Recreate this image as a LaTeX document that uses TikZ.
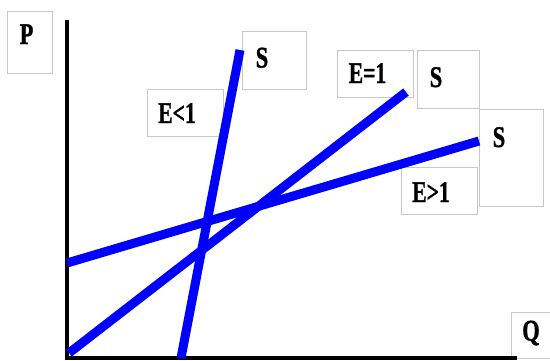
\documentclass[tikz,border=0pt]{standalone}
\usepackage{fontspec}
\setmainfont{Liberation Serif}
\newfontfamily\lblfont{Liberation Serif Bold}[FakeBold=1.2]
\begin{document}
\begin{tikzpicture}[x=1pt,y=-1pt,
  lbox/.style={draw=black!22,line width=0.8pt,fill=white},
  lbl/.style={anchor=base,inner sep=0pt,font=\lblfont\fontsize{30}{32}\selectfont},
  axis/.style={line width=4pt,black},
  curve/.style={line width=9pt,blue}]
\useasboundingbox (0,0) rectangle (550,360);
% boxes
\draw[lbox] (7,11) rectangle (52,73) node[pos=0.5] (pbox) {};
\draw[lbox] (242,31) rectangle (306,89) node[pos=0.5] (s1box) {};
\draw[lbox] (147,89) rectangle (223,136) node[pos=0.5] (e1box) {};
\draw[lbox] (337,50) rectangle (413,97) node[pos=0.5] (e2box) {};
\draw[lbox] (417,50) rectangle (479,108) node[pos=0.5] (s2box) {};
\draw[lbox] (479,109) rectangle (543,206) node[pos=0.5] (s3box) {};
\draw[lbox] (401,167) rectangle (477,214) node[pos=0.5] (e3box) {};
\draw[lbox] (511,312) rectangle (552,358) node[pos=0.5] (qbox) {};
% labels
\node[lbl] (p) at (26.5,44) {\scalebox{0.75}[1]{P}};
\node[lbl] (s1) at (262,67.5) {\scalebox{0.75}[1]{S}};
\node[lbl] (el) at (177,123) {\scalebox{0.72}[1]{E<1}};
\node[lbl] (ee) at (367.5,83) {\scalebox{0.72}[1]{E=1}};
\node[lbl] (s2) at (436,87) {\scalebox{0.75}[1]{S}};
\node[lbl] (s3) at (499,147) {\scalebox{0.75}[1]{S}};
\node[lbl] (eg) at (431,202) {\scalebox{0.72}[1]{E>1}};
\node[lbl] (q) at (531,340.5) {\scalebox{0.75}[1]{Q}};
% axes
\coordinate (ytop) at (67,20);
\coordinate (orig) at (67,357.5);
\coordinate (xend) at (517,357.5);
\draw[axis] (ytop) -- (67,359.5);
\draw[axis] (65,357.5) -- (xend);
% supply curves
\coordinate (a1) at (181,358);
\coordinate (a2) at (240,50);
\coordinate (b1) at (69,353);
\coordinate (b2) at (406,92);
\coordinate (c1) at (67,263);
\coordinate (c2) at (479,141);
\draw[curve] (a1) -- (a2);
\draw[curve] (b1) -- (b2);
\draw[curve] (c1) -- (c2);
\end{tikzpicture}
\end{document}
